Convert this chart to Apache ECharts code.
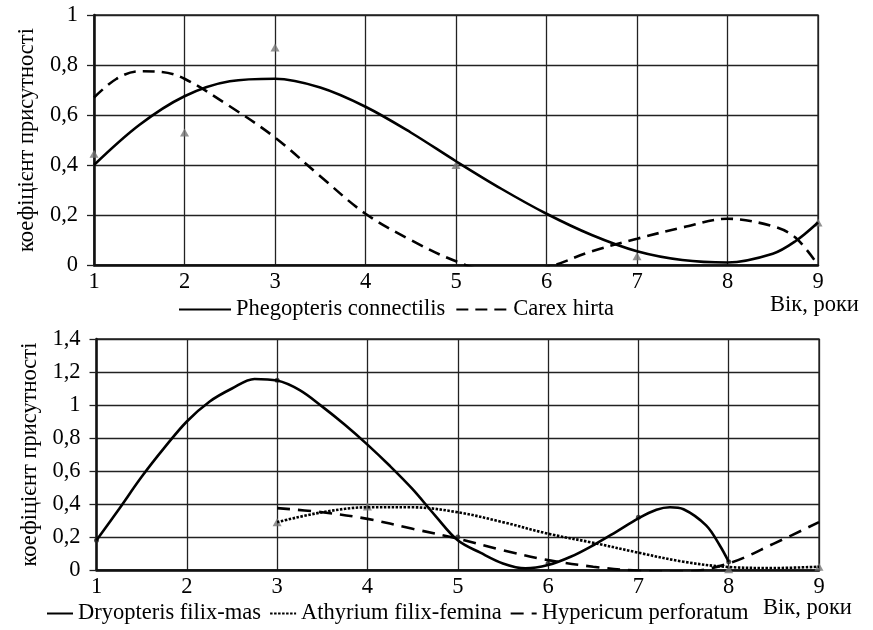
<!DOCTYPE html>
<html>
<head>
<meta charset="utf-8">
<script src="https://cdn.jsdelivr.net/npm/echarts@6/dist/echarts.min.js"></script>
<style>
html,body{margin:0;padding:0;background:#fff;}
#chart{width:873px;height:630px;}
</style>
</head>
<body>
<div id="chart"></div>
<script>
// верхній графік: лінії тренду
var phegX = [1, 1.5, 2, 2.5, 3, 3.5, 4, 4.5, 5, 5.5, 6, 6.5, 7, 7.5, 8, 8.5, 8.75, 9];
var phegY = [0.40, 0.56, 0.675, 0.735, 0.745, 0.71, 0.633, 0.53, 0.415, 0.305, 0.205, 0.12, 0.055, 0.02, 0.01, 0.045, 0.095, 0.17];
var carexX = [1, 1.25, 1.5, 1.75, 2, 2.5, 3, 3.5, 4, 4.5, 5, 5.5, 6, 6.5, 7, 7.5, 8, 8.5, 8.75, 9];
var carexY = [0.67, 0.745, 0.775, 0.772, 0.745, 0.635, 0.51, 0.355, 0.205, 0.10, 0.015, -0.035, -0.01, 0.055, 0.105, 0.15, 0.185, 0.155, 0.11, 0.0];
// верхній графік: точки
var topPtsX = [1, 2, 3, 5, 7, 9];
var topPtsY = [0.445, 0.53, 0.87, 0.40, 0.035, 0.17];

// нижній графік
var dryoX = [1, 1.25, 1.5, 1.75, 2, 2.25, 2.5, 2.75, 3, 3.25, 3.5, 3.75, 4, 4.25, 4.5, 4.75, 5, 5.25, 5.5, 5.75, 6, 6.25, 6.5, 6.75, 7, 7.2, 7.35, 7.5, 7.75, 7.9, 8];
var dryoY = [0.18, 0.37, 0.565, 0.74, 0.90, 1.02, 1.10, 1.158, 1.148, 1.09, 0.99, 0.88, 0.76, 0.63, 0.49, 0.33, 0.18, 0.105, 0.04, 0.01, 0.03, 0.08, 0.15, 0.23, 0.313, 0.365, 0.38, 0.368, 0.27, 0.15, 0.05];
var dryoPtsX = [1, 3, 5, 6, 7, 8];
var dryoPtsY = [0.18, 1.15, 0.2, 0.04, 0.32, 0.05];
var athX = [3, 3.5, 4, 4.5, 5, 5.5, 6, 6.5, 7, 7.5, 8, 8.5, 9];
var athY = [0.29, 0.35, 0.38, 0.38, 0.35, 0.29, 0.22, 0.165, 0.105, 0.05, 0.018, 0.012, 0.02];
var athPtsX = [3, 4, 8, 9];
var athPtsY = [0.29, 0.385, 0.005, 0.02];
var hypX = [3, 3.5, 4, 4.5, 5, 5.5, 6, 6.5, 7, 7.5, 8, 8.5, 9];
var hypY = [0.375, 0.35, 0.31, 0.25, 0.19, 0.12, 0.06, 0.02, -0.005, -0.01, 0.04, 0.16, 0.29];

var topNames = ['Phegopteris connectilis', 'Carex hirta'];
var botNames = ['Dryopteris filix-mas', 'Athyrium filix-femina', 'Hypericum perforatum'];
var yName = 'коефіцієнт присутності';
var xName = 'Вік, роки';

function pairs(xs, ys){
	var out = [];
	for (var i = 0; i < xs.length; i++) out.push([xs[i], ys[i]]);
	return out;
}
function fmt(v){
	return String(+v.toFixed(1)).replace('.', ',');
}

var font = 'Liberation Serif';
var fs = 22.5;
var ink = '#111';

function xAx(idx){
	return {
		type: 'value', gridIndex: idx, min: 1, max: 9, interval: 1,
		axisLine: {show: true, onZero: false, lineStyle: {color: ink, width: 2.5}},
		axisTick: {show: false},
		axisLabel: {fontFamily: font, fontSize: fs, color: '#000', margin: 6},
		splitLine: {show: true, lineStyle: {color: '#222', width: 1.3}}
	};
}
function yAx(idx, max){
	return {
		type: 'value', gridIndex: idx, min: 0, max: max, interval: 0.2,
		name: yName, nameLocation: 'middle', nameGap: 46, nameRotate: 90,
		nameTextStyle: {fontFamily: font, fontSize: fs, color: '#000'},
		axisLine: {show: true, lineStyle: {color: ink, width: 2.5}},
		axisTick: {show: true, length: 7, lineStyle: {color: '#222', width: 1.3}},
		axisLabel: {fontFamily: font, fontSize: fs, color: '#000', margin: 16, formatter: fmt},
		splitLine: {show: true, lineStyle: {color: '#222', width: 1.3}}
	};
}
function trend(name, xs, ys, idx, type){
	return {
		name: name, type: 'line', xAxisIndex: idx, yAxisIndex: idx,
		data: pairs(xs, ys), smooth: 0.35, symbol: 'none', clip: true,
		itemStyle: {color: '#000'},
		lineStyle: {color: '#000', width: 2.6, type: type}, z: 3
	};
}
function pts(xs, ys, idx, symbol, size, color){
	return {
		type: 'scatter', xAxisIndex: idx, yAxisIndex: idx,
		data: pairs(xs, ys), symbol: symbol, symbolSize: size,
		itemStyle: {color: color}, z: 2, silent: true
	};
}

var legendText = {fontFamily: font, fontSize: fs, color: '#000'};

var chart = echarts.init(document.getElementById('chart'), null, {renderer: 'canvas'});
chart.setOption({
	backgroundColor: '#fff',
	animation: false,
	grid: [
		{left: 94, right: 55, top: 15, bottom: 365, show: true, borderColor: '#222', borderWidth: 1.3, outerBoundsMode: 'none'},
		{left: 96.5, right: 54, top: 339, bottom: 60, show: true, borderColor: '#222', borderWidth: 1.3, outerBoundsMode: 'none'}
	],
	xAxis: [xAx(0), xAx(1)],
	yAxis: [yAx(0, 1), yAx(1, 1.4)],
	legend: [
		{data: topNames, left: 178, top: 298, padding: 0, itemWidth: 52, itemHeight: 22, itemGap: 10, selectedMode: false,
			itemStyle: {opacity: 0}, textStyle: legendText},
		{data: botNames, left: 46, top: 602, padding: 0, itemWidth: 26, itemHeight: 22, itemGap: 8, selectedMode: false,
			itemStyle: {opacity: 0}, textStyle: legendText}
	],
	// підписи осі X ("Вік, роки")
	graphic: [
		{type: 'text', left: 770, top: 294, style: {text: xName, font: fs + 'px "' + font + '"', fill: '#000'}},
		{type: 'text', left: 763, top: 597, style: {text: xName, font: fs + 'px "' + font + '"', fill: '#000'}}
	],
	series: [
		pts(topPtsX, topPtsY, 0, 'triangle', [9, 8], '#777'),
		trend(topNames[0], phegX, phegY, 0, 'solid'),
		trend(topNames[1], carexX, carexY, 0, [12, 7]),
		pts(athPtsX, athPtsY, 1, 'triangle', [9, 8], '#777'),
		pts(dryoPtsX, dryoPtsY, 1, 'circle', 5, '#222'),
		trend(botNames[0], dryoX, dryoY, 1, 'solid'),
		trend(botNames[1], athX, athY, 1, [2.5, 1.5]),
		trend(botNames[2], hypX, hypY, 1, [13, 8])
	]
});
</script>
</body>
</html>
